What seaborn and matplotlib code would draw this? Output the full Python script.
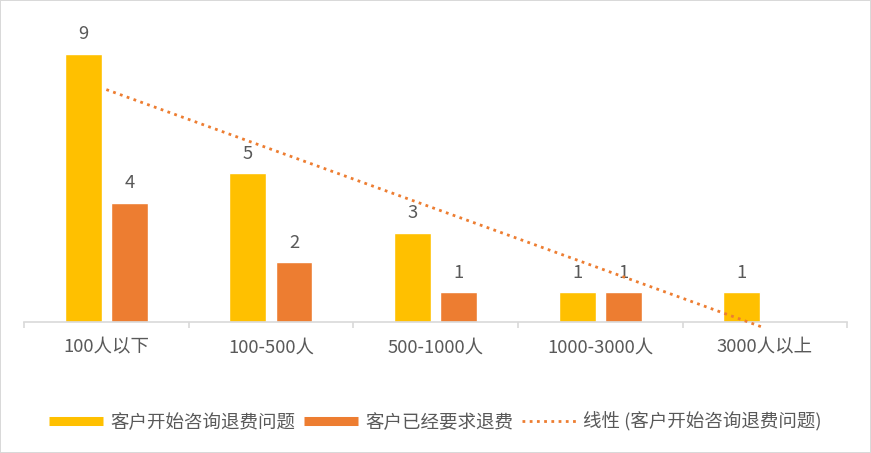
import numpy as np
import pandas as pd
import matplotlib
matplotlib.use("Agg")
import matplotlib.pyplot as plt
from matplotlib.lines import Line2D
import seaborn as sns

# Data
CATEGORIES = ["100人以下", "100-500人", "500-1000人", "1000-3000人", "3000人以上"]
SERIES_NAMES = ["客户开始咨询退费问题", "客户已经要求退费"]
CONSULT = [9, 5, 3, 1, 1]
REFUND = [4, 2, 1, 1, np.nan]
TREND_NAME = "线性 (客户开始咨询退费问题)"

YELLOW = "#FFC000"
ORANGE = "#ED7D31"
TEXT = "#595959"
AXIS = "#D9D9D9"
FS = 13.3

df = pd.DataFrame({
    "category": CATEGORIES * 2,
    "series": [SERIES_NAMES[0]] * len(CATEGORIES) + [SERIES_NAMES[1]] * len(CATEGORIES),
    "value": CONSULT + REFUND,
})

sns.set_theme(style="white")
plt.rcParams["font.family"] = ["Noto Sans CJK SC", "DejaVu Sans"]

fig = plt.figure(figsize=(8.71, 4.53), dpi=100, edgecolor=AXIS, linewidth=1.2)
ax = fig.add_axes([0.0276, 0.289, 0.945, 0.658])

sns.barplot(
    data=df, x="category", y="value", hue="series",
    order=CATEGORIES, hue_order=SERIES_NAMES,
    palette=[YELLOW, ORANGE], width=0.56, gap=0.2,
    saturation=1, errorbar=None, legend=False, ax=ax,
)

for cont in ax.containers:
    ax.bar_label(cont, fmt="%g", padding=7.5, color=TEXT, fontsize=FS)

# linear trendline of the first series (runs a little below the axis, as in Excel)
sns.regplot(
    x=np.arange(len(CATEGORIES)), y=np.array(CONSULT, dtype=float),
    scatter=False, ci=None, truncate=True, ax=ax,
    line_kws=dict(color=ORANGE, lw=2, linestyle=(0, (1, 1.6)), zorder=5, clip_on=False),
)

ax.set_xlim(-0.5, len(CATEGORIES) - 0.5)
ax.set_ylim(0, 10)
ax.set_xlabel("")
ax.set_ylabel("")
ax.set_yticks([])
ax.set_xticks(range(len(CATEGORIES)))
ax.set_xticklabels(CATEGORIES, color=TEXT, fontsize=FS)
ax.set_xticks(np.arange(-0.5, len(CATEGORIES), 1.0), minor=True)
ax.tick_params(axis="x", which="major", length=0, pad=12)
ax.tick_params(axis="x", which="minor", length=4, width=1.2, color=AXIS, bottom=True)
for side in ["left", "right", "top"]:
    ax.spines[side].set_visible(False)
ax.spines["bottom"].set_color(AXIS)
ax.spines["bottom"].set_linewidth(1.2)

handles = [
    Line2D([], [], color=YELLOW, lw=6.5, solid_capstyle="butt"),
    Line2D([], [], color=ORANGE, lw=6.5, solid_capstyle="butt"),
    Line2D([], [], color=ORANGE, lw=2, linestyle=(0, (1, 1.6))),
]
fig.legend(
    handles, SERIES_NAMES + [TREND_NAME], loc="center", bbox_to_anchor=(0.5, 0.068),
    ncol=3, frameon=False, fontsize=FS, labelcolor=TEXT,
    handlelength=2.9, handletextpad=0.4, columnspacing=0.5,
)

fig.savefig("out.png", dpi=100)
